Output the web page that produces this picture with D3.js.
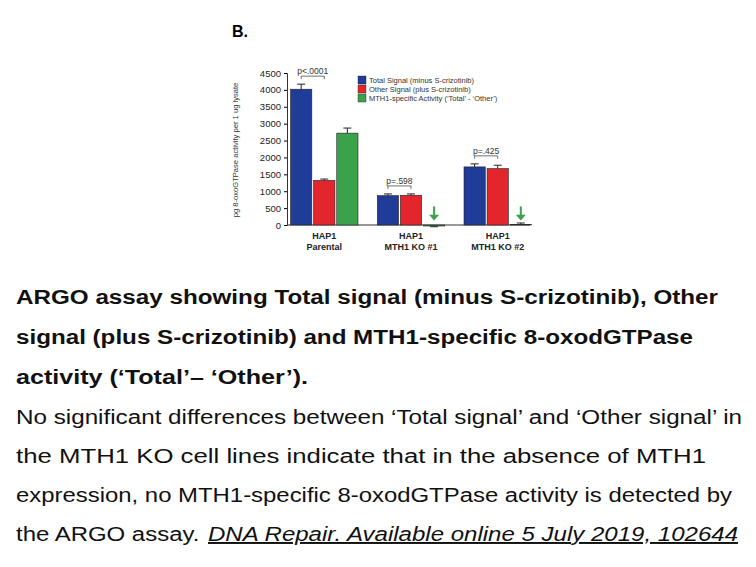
<!DOCTYPE html><html><head><meta charset="utf-8"><script src="https://cdn.jsdelivr.net/npm/d3@7"></script>
<style>body{margin:0;background:#fff}</style></head><body><svg id="c" width="756" height="567"></svg>
<script>
const groups=["HAP1|Parental","HAP1|MTH1 KO #1","HAP1|MTH1 KO #2"];
const seriesNames=["Total Signal (minus S-crizotinib)","Other Signal (plus S-crizotinib)","MTH1-specific Activity (‘Total’ - ‘Other’)"];
const colors=["#1f3c99","#e3262b","#3aa24a"];
const totalVals=[4020,870,1720], totalErr=[150,50,90];
const otherVals=[1320,880,1670], otherErr=[40,40,100];
const mth1Vals=[2720,-30,20], mth1Err=[150,20,40];
const pLabels=["p<.0001","p=.598","p=.425"];
const yTicks=[0,500,1000,1500,2000,2500,3000,3500,4000,4500];
const svg=d3.select("#c");
const y=d3.scaleLinear().domain([0,4500]).range([225,73]);
const x0=d3.scaleBand().domain(groups).range([287,535]).paddingInner(0.18).paddingOuter(0.02);
const x1=d3.scaleBand().domain([0,1,2]).range([0,x0.bandwidth()]).padding(0.08);
const series=[[totalVals,totalErr],[otherVals,otherErr],[mth1Vals,mth1Err]];
svg.append("text").attr("x",232).attr("y",37).attr("font-family","Liberation Sans").attr("font-weight","bold").attr("font-size",16).text("B.");
const ax=svg.append("g").attr("transform","translate(287,0)").call(d3.axisLeft(y).tickValues(yTicks).tickFormat(d3.format("d")).tickSize(3));
ax.selectAll("text").attr("font-family","Liberation Sans").attr("font-size",9.5).attr("fill","#222");
ax.select(".domain").attr("stroke","#333");
svg.append("line").attr("x1",287).attr("x2",530).attr("y1",y(0)).attr("y2",y(0)).attr("stroke","#333");
svg.append("text").attr("transform","translate(238,150) rotate(-90)").attr("text-anchor","middle").attr("font-family","Liberation Sans").attr("font-size",7.6).attr("fill","#333").text("pg 8-oxoGTPase activity per 1 ug lysate");
groups.forEach((g,gi)=>{
  series.forEach(([v,e],si)=>{
    const val=v[gi], er=e[gi];
    const bx=x0(g)+x1(si), bw=x1.bandwidth(), cx=bx+bw/2;
    svg.append("rect").attr("x",bx).attr("width",bw).attr("y",y(Math.max(0,val))).attr("height",Math.abs(y(val)-y(0))).attr("fill",colors[si]).attr("stroke","#222").attr("stroke-width",0.6);
    const top=val>=0?val+er:val-er;
    svg.append("line").attr("x1",cx).attr("x2",cx).attr("y1",y(val)).attr("y2",y(top)).attr("stroke","#222");
    svg.append("line").attr("x1",cx-4).attr("x2",cx+4).attr("y1",y(top)).attr("y2",y(top)).attr("stroke","#222");
    if(si===2&&gi>0){
      svg.append("line").attr("x1",cx).attr("x2",cx).attr("y1",y(550)).attr("y2",y(250)).attr("stroke",colors[2]).attr("stroke-width",2);
      svg.append("path").attr("d",`M${cx-5},${y(300)}L${cx+5},${y(300)}L${cx},${y(130)}Z`).attr("fill",colors[2]);
    }
  });
  const a=x0(g)+x1(0)+x1.bandwidth()/2, b=x0(g)+x1(1)+x1.bandwidth()/2;
  const maxv=Math.max(totalVals[gi]+totalErr[gi],otherVals[gi]+otherErr[gi]);
  const by=y(maxv)-8;
  svg.append("path").attr("d",`M${a},${by+3}V${by}H${b}V${by+3}`).attr("fill","none").attr("stroke","#333").attr("stroke-width",0.7);
  svg.append("text").attr("x",(a+b)/2).attr("y",by-2).attr("text-anchor","middle").attr("font-family","Liberation Sans").attr("font-size",8.5).attr("fill","#333").text(pLabels[gi]);
  const cxg=x0(g)+x0.bandwidth()/2;
  g.split("|").forEach((t,i)=>svg.append("text").attr("x",cxg).attr("y",239+i*11).attr("text-anchor","middle").attr("font-family","Liberation Sans").attr("font-weight","bold").attr("font-size",9).attr("fill","#222").text(t));
});
seriesNames.forEach((n,i)=>{
  svg.append("rect").attr("x",358).attr("y",76+i*9).attr("width",8).attr("height",8).attr("fill",colors[i]).attr("stroke","#222").attr("stroke-width",0.4);
  svg.append("text").attr("x",369).attr("y",83+i*9).attr("font-family","Liberation Sans").attr("font-size",7.5).attr("fill","#333").text(n);
});
const boldLines=["ARGO assay showing Total signal (minus S-crizotinib), Other","signal (plus S-crizotinib) and MTH1-specific 8-oxodGTPase","activity (‘Total’– ‘Other’)."];
const boldW=[702,677,292];
const normalLines=["No significant differences between ‘Total signal’ and ‘Other signal’ in","the MTH1 KO cell lines indicate that in the absence of MTH1","expression, no MTH1-specific 8-oxodGTPase activity is detected by"];
const normW=[726,690,716];
const t=svg.append("g").attr("font-family","Liberation Sans").attr("font-size",19.5).attr("fill","#111");
boldLines.forEach((l,i)=>t.append("text").attr("x",16).attr("y",304+i*40).attr("font-weight","bold").attr("textLength",boldW[i]).attr("lengthAdjust","spacingAndGlyphs").text(l));
normalLines.forEach((l,i)=>t.append("text").attr("x",16).attr("y",424+i*39).attr("textLength",normW[i]).attr("lengthAdjust","spacingAndGlyphs").text(l));
const last=t.append("text").attr("x",16).attr("y",541);
last.append("tspan").attr("textLength",190).attr("lengthAdjust","spacingAndGlyphs").text("the ARGO assay. ");
last.append("tspan").attr("x",208).attr("font-style","italic").attr("text-decoration","underline").attr("textLength",530).attr("lengthAdjust","spacingAndGlyphs").text("DNA Repair. Available online 5 July 2019, 102644");
</script></body></html>
